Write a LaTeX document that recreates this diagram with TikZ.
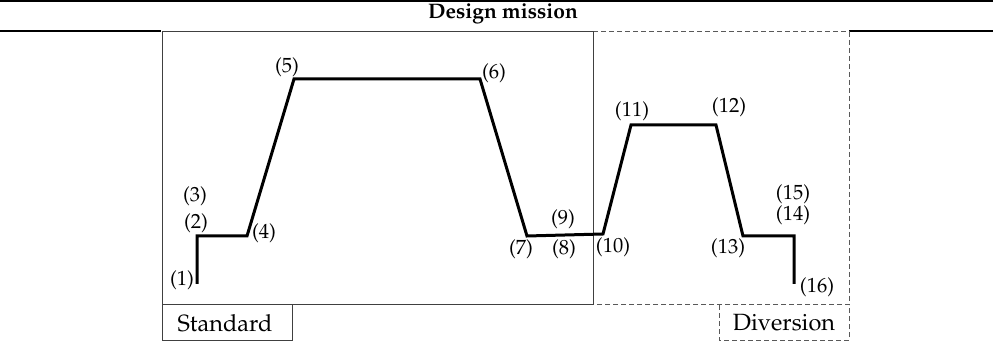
\documentclass[tikz,border=0pt]{standalone}
\usepackage[T1]{fontenc}
\usepackage{mathpazo}
\begin{document}
\begin{tikzpicture}[x=1pt,y=-1pt,
  lbl/.style={inner sep=0pt,font=\fontsize{20.5}{23}\selectfont},
  boxtext/.style={inner sep=0pt,font=\fontsize{23.5}{26}\selectfont},
  prof/.style={line width=3pt,line join=miter},
  rulebar/.style={line width=2.6pt},
  framebox/.style={draw=black!75,line width=1pt},
  dashbox/.style={draw=black!65,line width=1pt,dash pattern=on 5pt off 3pt}]
\useasboundingbox (0,0) rectangle (993,347);
% table rules
\draw[rulebar] (0,1) -- (993,1);
\node[inner sep=0pt,font=\fontsize{21}{24}\selectfont\bfseries] (title) at (503,14) {Design mission};
\draw[rulebar] (0,31) -- (161,31);
\draw[rulebar] (849,31) -- (993,31);
% boxes
\draw[dashbox] (593,32) -- (849,32) -- (849,305) -- (593,305);
\draw[dashbox] (719,305) -- (719,340) -- (849,340) -- (849,305);
\node[boxtext] (div) at (784,323) {Diversion};
\draw[framebox] (162,32) rectangle (593,305);
\draw[framebox] (162,305) rectangle (292,340);
\node[boxtext] (std) at (225,323) {Standard};
% profile points
\coordinate (p1) at (197,284);
\coordinate (p2) at (197,236);
\coordinate (p4) at (247,236);
\coordinate (p5) at (294,79);
\coordinate (p6) at (480,79);
\coordinate (p7) at (527,236);
\coordinate (p10) at (603,234);
\coordinate (p11) at (631,125);
\coordinate (p12) at (716,125);
\coordinate (p13) at (743,236);
\coordinate (p14) at (794,236);
\coordinate (p16) at (794,284);
\draw[prof] (p1) -- (p2) -- (p4) -- (p5) -- (p6) -- (p7) -- (p10) -- (p11) -- (p12) -- (p13) -- (p14) -- (p16);
% labels
\node[lbl] (l1) at (182,280) {(1)};
\node[lbl] (l2) at (196,223) {(2)};
\node[lbl] (l3) at (195,196) {(3)};
\node[lbl] (l4) at (264,233) {(4)};
\node[lbl] (l5) at (287,67) {(5)};
\node[lbl] (l6) at (494,73) {(6)};
\node[lbl] (l7) at (521,249) {(7)};
\node[lbl] (l8) at (564,249) {(8)};
\node[lbl] (l9) at (563,219) {(9)};
\node[lbl] (l10) at (613,247) {(10)};
\node[lbl] (l11) at (632,111) {(11)};
\node[lbl] (l12) at (729,107) {(12)};
\node[lbl] (l13) at (728,248) {(13)};
\node[lbl] (l14) at (793,215.5) {(14)};
\node[lbl] (l15) at (793,194.5) {(15)};
\node[lbl] (l16) at (817,287) {(16)};
\end{tikzpicture}
\end{document}
